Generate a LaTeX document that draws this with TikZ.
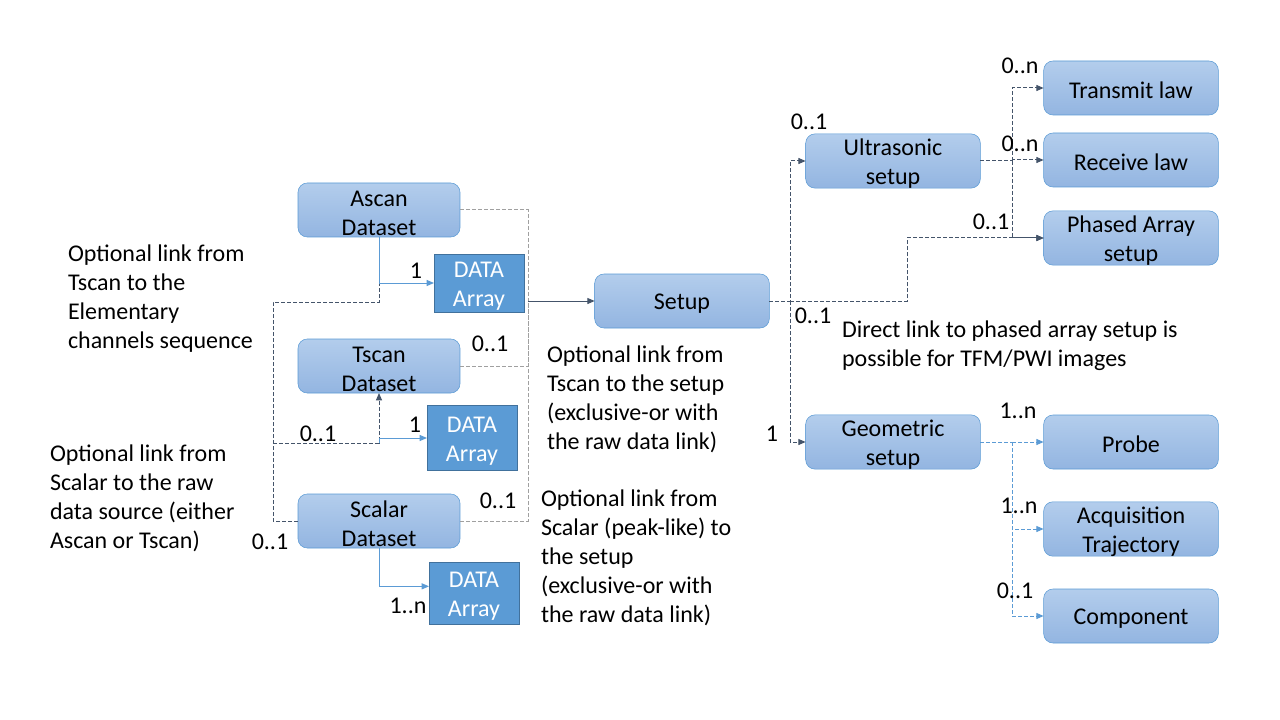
\documentclass[tikz,border=0pt]{standalone}
\usepackage{fontspec}
\setmainfont{Carlito}
\usetikzlibrary{arrows.meta}
\definecolor{boxtop}{HTML}{B3CDEC}
\definecolor{boxbot}{HTML}{93B5E1}
\definecolor{boxline}{HTML}{5B9BD5}
\definecolor{arrfill}{HTML}{5B9BD5}
\definecolor{arrline}{HTML}{41719C}
\definecolor{linkdark}{HTML}{44546A}
\definecolor{linkgrey}{HTML}{A0A0A0}
\definecolor{linkblue}{HTML}{5B9BD5}
\begin{document}
\begin{tikzpicture}[x=0.75pt,y=-0.75pt,
    font=\fontsize{18}{21.75}\selectfont,
    every node/.style={inner sep=0pt,outer sep=0pt},
    setbox/.style={draw=boxline,top color=boxtop,bottom color=boxbot,rounded corners=7pt,
      minimum width=131pt,minimum height=40.5pt,align=center,text height=16pt},
    twoline/.style={text height=37.75pt},
    dataset/.style={setbox,twoline,minimum width=121.5pt},
    darray/.style={draw=arrline,fill=arrfill,text=white,minimum width=67.5pt,align=center,text height=37.5pt},
    note/.style={anchor=north west,align=left},
    tip/.style={-{Triangle[length=5.5pt,width=4.5pt]}},
    link/.style={draw=linkdark,dash pattern=on 3pt off 1.5pt,line width=0.75pt},
    greylink/.style={link,draw=linkgrey},
    bluelink/.style={link,draw=linkblue},
    rawlink/.style={draw=linkblue,line width=0.75pt}]
  \useasboundingbox[fill=white] (0,0) rectangle (1280,720);
  % datasets and their arrays
  \node[dataset] (ascan) at (379,210) {Ascan\\Dataset};
  \node[dataset] (tscan) at (379,366) {Tscan\\Dataset};
  \node[dataset] (scalar) at (379,521) {Scalar\\Dataset};
  \node[darray,minimum height=43.5pt] (arrA) at (479,283) {DATA\\Array};
  \node[darray,minimum height=48.75pt] (arrT) at (472,438) {DATA\\Array};
  \node[darray,minimum height=46.5pt] (arrS) at (474,593) {DATA\\Array};
  % setups
  \node[setbox] (setup) at (682,301) {Setup};
  \node[setbox,twoline] (ultra) at (893,161) {Ultrasonic\\setup};
  \node[setbox,twoline] (geom) at (893,442) {Geometric\\setup};
  \node[setbox] (transmit) at (1131,88) {Transmit law};
  \node[setbox] (receive) at (1131,160) {Receive law};
  \node[setbox,twoline] (phased) at (1131,238) {Phased Array\\setup};
  \node[setbox] (probe) at (1131,442) {Probe};
  \node[setbox,twoline] (traj) at (1131,529) {Acquisition\\Trajectory};
  \node[setbox] (comp) at (1131,616) {Component};
  % junctions
  \coordinate (lbtop) at (273,302);
  \coordinate (lbmid) at (273,443);
  \coordinate (rb) at (528,301);
  \coordinate (sb) at (790,301);
  \coordinate (pb) at (907,238);
  \coordinate (ub) at (1012,161);
  \coordinate (gb) at (1012,442);
  % raw data source links
  \draw[link] (scalar.west) -| (lbtop) -| (ascan.south);
  \draw[link,tip] (lbmid) -| (tscan.south);
  \draw[rawlink,tip] (ascan.south) |- (arrA.west);
  \draw[rawlink,tip] (tscan.south |- lbmid) -- ++(0,-5) |- (arrT.west);
  \draw[rawlink,tip] (scalar.south) |- ([yshift=5pt]arrS.west);
  % links to the setup
  \draw[greylink] (ascan.east) -| (rb);
  \draw[greylink] (tscan.east) -| (rb);
  \draw[greylink] (scalar.east) -| (rb);
  \draw[draw=linkdark,line width=0.75pt,tip] (rb) -- (setup.west);
  \draw[link,tip] (setup.east) -- (sb) |- (ultra.west);
  \draw[link,tip] (sb) |- (geom.west);
  \draw[link,tip] (sb) -| (pb) -- (phased.west);
  \draw[link] (ultra.east) -- (ub);
  \draw[link,tip] (ub) |- (transmit.west);
  \draw[link,tip] (ub) |- (receive.west);
  \draw[link,tip] (ub) |- (phased.west);
  \draw[bluelink] (geom.east) -- (gb);
  \draw[bluelink,tip] (gb) |- (probe.west);
  \draw[bluelink,tip] (gb) |- (traj.west);
  \draw[bluelink,tip] (gb) |- (comp.west);
  % multiplicities
  \node (mA) at (416,271) {1};
  \node (mT) at (415,425) {1};
  \node (mS) at (408,606) {1..n};
  \node (mTl) at (318,434) {0..1};
  \node (mSl) at (270,542) {0..1};
  \node (mTr) at (490,344) {0..1};
  \node (mSr) at (498,501) {0..1};
  \node (mU) at (809,122) {0..1};
  \node (mP) at (813,316) {0..1};
  \node (mG) at (772,434) {1};
  \node (mTx) at (1020,66) {0..n};
  \node (mRx) at (1020,144) {0..n};
  \node (mPA) at (991,222) {0..1};
  \node (mPr) at (1018,411) {1..n};
  \node (mTj) at (1019,506) {1..n};
  \node (mC) at (1015,591) {0..1};
  % notes
  \node[note] (noteT) at (68,245) {Optional link from\\Tscan to the\\Elementary\\channels sequence};
  \node[note] (noteS) at (50,445) {Optional link from\\Scalar to the raw\\data source (either\\Ascan or Tscan)};
  \node[note] (noteTs) at (547,346) {Optional link from\\Tscan to the setup\\(exclusive-or with\\the raw data link)};
  \node[note] (noteSs) at (541,490) {Optional link from\\Scalar (peak-like) to\\the setup\\(exclusive-or with\\the raw data link)};
  \node[note] (noteD) at (842,321) {Direct link to phased array setup is\\possible for TFM/PWI images};
\end{tikzpicture}
\end{document}
